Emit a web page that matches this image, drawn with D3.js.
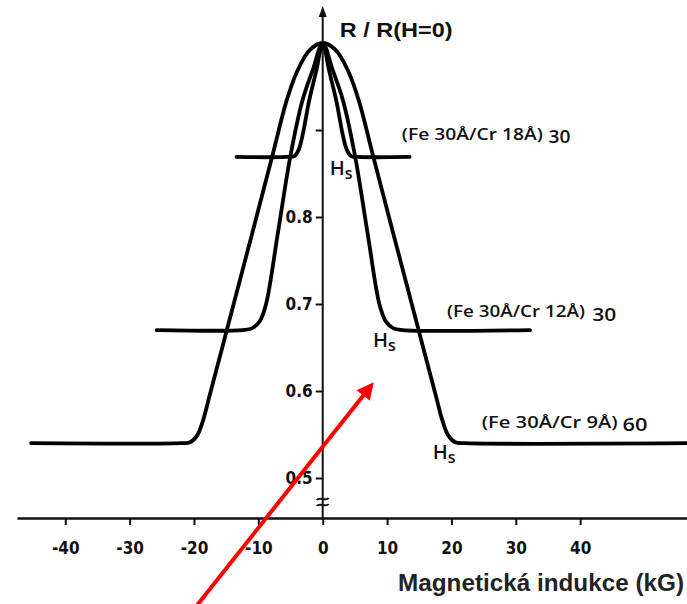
<!DOCTYPE html>
<html>
<head>
<meta charset="utf-8">
<script src="https://cdn.jsdelivr.net/npm/d3@7"></script>
<style>
	body { margin: 0; background: #fff; }
	svg { display: block; }
	.cond { font-family: "DejaVu Sans Condensed", "Open Sans", sans-serif; }
	.semi { font-family: "Open Sans", "DejaVu Sans Condensed", sans-serif; font-weight: 600; }
	.title { font-family: "Liberation Sans", Arial, sans-serif; font-weight: bold; }
</style>
</head>
<body>
<svg id="chart" width="687" height="604"></svg>
<script>
// magnetoresistance curves, [H in kG, R/R(H=0)]
const cr18 = [
	[-13.4, 0.869], [-5.5, 0.869], [-4.4, 0.870], [-3.7, 0.878], [-3.1, 0.895], [-2.1, 0.934],
	[-1, 0.968], [0, 1.0], [1, 0.968], [2.1, 0.934], [3.1, 0.895], [3.7, 0.878], [4.4, 0.870],
	[5.5, 0.869], [13.5, 0.869]
];
const cr12 = [
	[-25.8, 0.670], [-12.4, 0.670], [-11, 0.672], [-9.8, 0.680], [-8.8, 0.700], [-7, 0.780],
	[-5, 0.871], [-3.15, 0.934], [-1.5, 0.970], [0, 1.0], [1.5, 0.970], [3.15, 0.934], [5, 0.871],
	[7, 0.780], [8.8, 0.700], [9.8, 0.680], [11, 0.672], [12.4, 0.670], [32.2, 0.670]
];
const cr9 = [
	[-45.3, 0.540], [-22, 0.540], [-20.6, 0.541], [-19.5, 0.549], [-18.6, 0.566], [-17.6, 0.594],
	[-14.9, 0.670], [-11, 0.780], [-7.8, 0.871], [-5.6, 0.934], [-4, 0.967], [-2, 0.992], [0, 1.0],
	[2, 0.992], [4, 0.967], [5.6, 0.934], [7.8, 0.871], [11, 0.780], [14.9, 0.670], [17.6, 0.594],
	[18.6, 0.566], [19.5, 0.549], [20.6, 0.541], [22, 0.540], [56.6, 0.540]
];
const series = [cr18, cr12, cr9];
const seriesNames = ["(Fe 30Å/Cr 18Å)", "(Fe 30Å/Cr 12Å)", "(Fe 30Å/Cr 9Å)"];
const seriesRepeats = ["30", "30", "60"];
// where each name sits, in chart units [H, R]
const seriesLabelAt = [[12.3, 0.889], [19.3, 0.685], [24.7, 0.557]];
const repeatLabelAt = [[35.1, 0.885], [41.9, 0.681], [46.6, 0.554]];
// saturation field marks
const hsAt = [[1.1, 0.848], [7.8, 0.651], [17.1, 0.522]];

const xTicks = [-40, -30, -20, -10, 0, 10, 20, 30, 40];
const yTicks = [0.5, 0.6, 0.7, 0.8, 0.9];
const yTickLabels = ["0.5", "0.6", "0.7", "0.8", ""];
const xTitle = "Magnetická indukce (kG)";
const yTitle = "R / R(H=0)";
// red pointer drawn over the figure, [H, R] tail then tip
const redArrow = [[-19.6, 0.353], [7.6, 0.607]];

const svg = d3.select("svg#chart");
const width = +svg.attr("width");
const height = +svg.attr("height");

const x = d3.scaleLinear([-47.5, 56.6], [17, width]);
const y = d3.scaleLinear([0.5, 1.0], [478, 43]);
const axisY = 518;

// x axis
const xAxis = d3.axisBottom(x).tickValues(xTicks).tickSize(7).tickSizeOuter(0);
const gx = svg.append("g").attr("transform", `translate(0,${axisY})`).call(xAxis);
gx.select(".domain").attr("stroke", "#111").attr("stroke-width", 2.6);
gx.selectAll(".tick line").attr("stroke", "#111").attr("stroke-width", 2);
gx.selectAll(".tick text")
	.attr("class", "cond")
	.attr("y", 36).attr("dy", 0)
	.attr("font-size", 17).attr("font-weight", "bold").attr("fill", "#111")
	.text((d) => String(d));

// y axis
const x0 = x(0);
const yAxis = d3.axisLeft(y).tickValues(yTicks).tickSize(7).tickFormat((d, i) => yTickLabels[i]);
const gy = svg.append("g").attr("transform", `translate(${x0},0)`).call(yAxis);
gy.select(".domain").remove();
gy.selectAll(".tick line").attr("stroke", "#111").attr("stroke-width", 2);
gy.selectAll(".tick text")
	.attr("class", "cond")
	.attr("x", -10)
	.attr("font-size", 17).attr("font-weight", "bold").attr("fill", "#111");
svg.append("line")
	.attr("x1", x0).attr("x2", x0)
	.attr("y1", axisY).attr("y2", 14)
	.attr("stroke", "#111").attr("stroke-width", 2);
svg.append("path")
	.attr("d", `M${x0},6 L${x0 + 4},17 L${x0 - 4},17 Z`)
	.attr("fill", "#111");
// axis break
[499, 505].forEach((by) => {
	svg.append("path")
		.attr("d", `M${x0 - 6},${by + 1} C${x0 - 3},${by - 3} ${x0 + 3},${by + 3} ${x0 + 6},${by - 1}`)
		.attr("fill", "none").attr("stroke", "#111").attr("stroke-width", 2);
});

svg.append("text").attr("class", "title")
	.attr("x", x0 + 17).attr("y", 37)
	.attr("font-size", 20).attr("fill", "#111")
	.attr("textLength", 113).attr("lengthAdjust", "spacingAndGlyphs")
	.text(yTitle);
svg.append("text").attr("class", "title")
	.attr("x", 398).attr("y", 591)
	.attr("font-size", 23).attr("fill", "#222")
	.attr("textLength", 286).attr("lengthAdjust", "spacingAndGlyphs")
	.text(xTitle);

// curves
const line = d3.line()
	.x((d) => x(d[0]))
	.y((d) => y(d[1]))
	.curve(d3.curveCatmullRom.alpha(0.5));
svg.append("g")
	.selectAll("path")
	.data(series)
	.join("path")
	.attr("d", line)
	.attr("fill", "none")
	.attr("stroke", "#000")
	.attr("stroke-width", 3.8)
	.attr("stroke-linejoin", "round")
	.attr("stroke-linecap", "round");

// series names
const nameWidths = [141, 138, 136];
const repeatWidths = [22, 24, 25];
svg.append("g")
	.selectAll("text")
	.data(seriesNames)
	.join("text")
	.attr("class", "semi")
	.attr("x", (d, i) => x(seriesLabelAt[i][0]))
	.attr("y", (d, i) => y(seriesLabelAt[i][1]))
	.attr("font-size", 17)
	.attr("fill", "#111")
	.attr("textLength", (d, i) => nameWidths[i])
	.attr("lengthAdjust", "spacingAndGlyphs")
	.text((d) => d);
svg.append("g")
	.selectAll("text")
	.data(seriesRepeats)
	.join("text")
	.attr("class", "semi")
	.attr("x", (d, i) => x(repeatLabelAt[i][0]))
	.attr("y", (d, i) => y(repeatLabelAt[i][1]))
	.attr("font-size", 18)
	.attr("fill", "#111")
	.attr("textLength", (d, i) => repeatWidths[i])
	.attr("lengthAdjust", "spacingAndGlyphs")
	.text((d) => d);

// H_s marks
const hs = svg.append("g")
	.selectAll("text")
	.data(hsAt)
	.join("text")
	.attr("class", "semi")
	.attr("x", (d) => x(d[0]))
	.attr("y", (d) => y(d[1]))
	.attr("font-size", 20)
	.attr("fill", "#111");
hs.append("tspan").text("H");
hs.append("tspan").attr("dy", 4).attr("font-size", 16).text("s");

// red pointer
svg.append("defs").append("marker")
	.attr("id", "head")
	.attr("viewBox", "0 0 10 10")
	.attr("refX", 8).attr("refY", 5)
	.attr("markerUnits", "userSpaceOnUse")
	.attr("markerWidth", 22).attr("markerHeight", 17)
	.attr("orient", "auto")
	.append("path")
	.attr("d", "M0,0 L10,5 L0,10 Z")
	.attr("fill", "#f00");
svg.append("path")
	.attr("d", d3.line().x((d) => x(d[0])).y((d) => y(d[1]))(redArrow))
	.attr("stroke", "#f00")
	.attr("stroke-width", 4)
	.attr("fill", "none")
	.attr("marker-end", "url(#head)");
</script>
</body>
</html>
